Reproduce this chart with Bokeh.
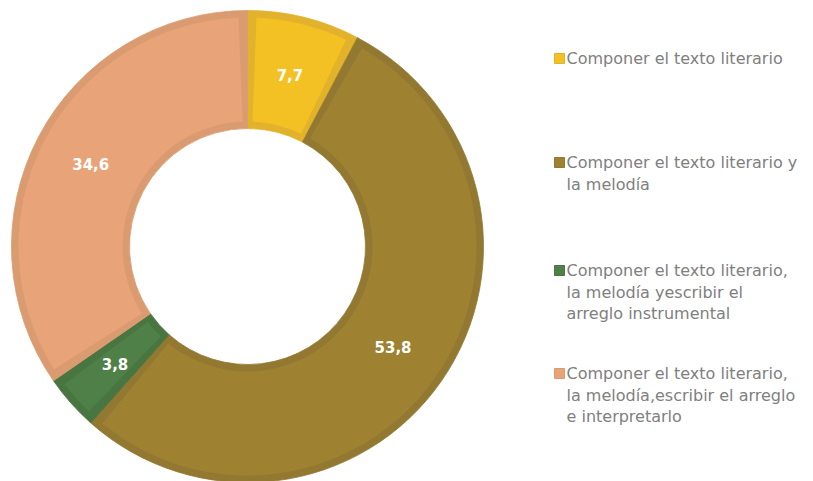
import math
from bokeh.plotting import figure
from bokeh.models import Range1d, ColumnDataSource
from bokeh.core.properties import value
from bokeh.embed import file_html
from bokeh.resources import INLINE

# ---- data ----
categories = [
    "Componer el texto literario",
    "Componer el texto literario y\nla melodía",
    "Componer el texto literario,\nla melodía yescribir el\narreglo instrumental",
    "Componer el texto literario,\nla melodía,escribir el arreglo\ne interpretarlo",
]
values = [7.7, 53.8, 3.8, 34.6]
value_labels = ["7,7", "53,8", "3,8", "34,6"]
fill_colors = ["#F4C124", "#9E8232", "#4F8047", "#E8A478"]
border_colors = ["#E3B22C", "#927831", "#497541", "#DA9B71"]

W, H = 813, 481
cx, cy = 247, H - 246
r_out, r_in = 236, 118
inset = 7

total = sum(values)
starts, ends, mids = [], [], []
cum = 0.0
for v in values:
    a0 = math.pi / 2 - cum / total * 2 * math.pi
    cum += v
    a1 = math.pi / 2 - cum / total * 2 * math.pi
    starts.append(a0)
    ends.append(a1)
    mids.append((a0 + a1) / 2)

p = figure(width=W, height=H, output_backend="svg", toolbar_location=None,
           x_range=Range1d(0, W), y_range=Range1d(0, H), min_border=0)
p.axis.visible = False
p.grid.visible = False
p.outline_line_color = None
p.background_fill_color = "white"

src = ColumnDataSource(dict(s=starts, e=ends, fc=fill_colors, bc=border_colors))
p.annular_wedge(x=cx, y=cy, inner_radius=r_in, outer_radius=r_out,
                start_angle="s", end_angle="e", direction="clock",
                fill_color="bc", line_color="bc", line_width=0.8, source=src)

r_mid = (r_in + r_out) / 2
ang_in = inset / r_mid
src2 = ColumnDataSource(dict(s=[a - ang_in for a in starts], e=[a + ang_in for a in ends],
                             fc=fill_colors))
p.annular_wedge(x=cx, y=cy, inner_radius=r_in + inset, outer_radius=r_out - inset,
                start_angle="s", end_angle="e", direction="clock",
                fill_color="fc", line_color=None, source=src2)

lx = [cx + r_mid * math.cos(m) for m in mids]
ly = [cy + r_mid * math.sin(m) for m in mids]
p.text(x=lx, y=ly, text=value_labels, text_color="white", text_font=value("DejaVu Sans"),
       text_font_style="bold", text_font_size="15px", text_align="center",
       text_baseline="middle")

# ---- legend ----
leg_top = [H - 58, H - 162, H - 270, H - 373]
line_h = 21.7
sq_x = 559
for i, cat in enumerate(categories):
    y0 = leg_top[i]
    p.rect(x=sq_x, y=y0, width=10, height=10, fill_color=fill_colors[i],
           line_color=border_colors[i], line_width=1)
    for j, line in enumerate(cat.split("\n")):
        p.text(x=[566], y=[y0 - j * line_h], text=[line], text_color="#808080",
               text_font=value("DejaVu Sans"), text_font_size="16px",
               text_align="left", text_baseline="middle")

open("out.html", "w").write(file_html(p, INLINE))
